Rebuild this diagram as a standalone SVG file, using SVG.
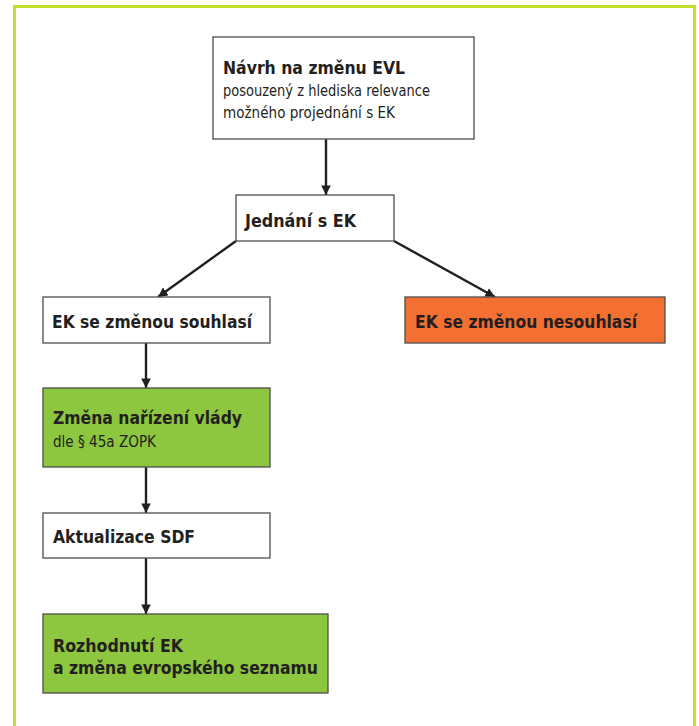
<svg xmlns="http://www.w3.org/2000/svg" width="699" height="726" viewBox="0 0 699 726">
<style>
.box{stroke:#4d4d4d;stroke-width:1.3}
.w{fill:#fff}
.g{fill:#8dc63f}
.o{fill:#f37032}
.b{font-family:"DejaVu Sans",Verdana,sans-serif;font-weight:bold;font-size:17px;fill:#231f20}
.n{font-family:"DejaVu Sans",Verdana,sans-serif;font-size:15px;fill:#231f20}
.c{stroke:#231f20;stroke-width:2.4;fill:none}
</style>
<defs>
<marker id="ah" viewBox="0 0 10 10" refX="10" refY="5" markerWidth="4" markerHeight="4" orient="auto" markerUnits="strokeWidth">
<path d="M0,0 L10,5 L0,10 z" fill="#231f20"/>
</marker>
</defs>
<rect width="699" height="726" fill="#fff"/>
<path d="M14.5,726 V6.5 H694.5 V726" fill="none" stroke="#c5dd2b" stroke-width="3"/>
<g id="connectors">
<line class="c" x1="326" y1="139" x2="326" y2="195" marker-end="url(#ah)"/>
<line class="c" x1="236" y1="241" x2="158" y2="297" marker-end="url(#ah)"/>
<line class="c" x1="394" y1="241" x2="495" y2="297" marker-end="url(#ah)"/>
<line class="c" x1="146" y1="343" x2="146" y2="388" marker-end="url(#ah)"/>
<line class="c" x1="146" y1="467" x2="146" y2="513" marker-end="url(#ah)"/>
<line class="c" x1="146" y1="558" x2="146" y2="614" marker-end="url(#ah)"/>
</g>
<g id="n1">
<rect class="box w" x="213" y="37" width="261" height="102"/>
<text class="b" x="223" y="74" textLength="182" lengthAdjust="spacingAndGlyphs">Návrh na změnu EVL</text>
<text class="n" x="223" y="96" textLength="207" lengthAdjust="spacingAndGlyphs">posouzený z hlediska relevance</text>
<text class="n" x="223" y="118" textLength="172" lengthAdjust="spacingAndGlyphs">možného projednání s EK</text>
</g>
<g id="n2">
<rect class="box w" x="236" y="195" width="158" height="46"/>
<text class="b" x="245" y="227" textLength="111" lengthAdjust="spacingAndGlyphs">Jednání s EK</text>
</g>
<g id="n3">
<rect class="box w" x="43" y="297" width="227" height="46"/>
<text class="b" x="52" y="328" textLength="200" lengthAdjust="spacingAndGlyphs">EK se změnou souhlasí</text>
</g>
<g id="n4">
<rect class="box o" x="405" y="297" width="260" height="46"/>
<text class="b" x="415" y="328" textLength="222" lengthAdjust="spacingAndGlyphs">EK se změnou nesouhlasí</text>
</g>
<g id="n5">
<rect class="box g" x="43" y="388" width="227" height="79"/>
<text class="b" x="53" y="424" textLength="189" lengthAdjust="spacingAndGlyphs">Změna nařízení vlády</text>
<text class="n" x="53" y="447" textLength="103" lengthAdjust="spacingAndGlyphs">dle § 45a ZOPK</text>
</g>
<g id="n6">
<rect class="box w" x="43" y="513" width="227" height="45"/>
<text class="b" x="53" y="543" textLength="142" lengthAdjust="spacingAndGlyphs">Aktualizace SDF</text>
</g>
<g id="n7">
<rect class="box g" x="43" y="614" width="285" height="79"/>
<text class="b" x="53" y="652" textLength="130" lengthAdjust="spacingAndGlyphs">Rozhodnutí EK</text>
<text class="b" x="53" y="674" textLength="265" lengthAdjust="spacingAndGlyphs">a změna evropského seznamu</text>
</g>
</svg>
